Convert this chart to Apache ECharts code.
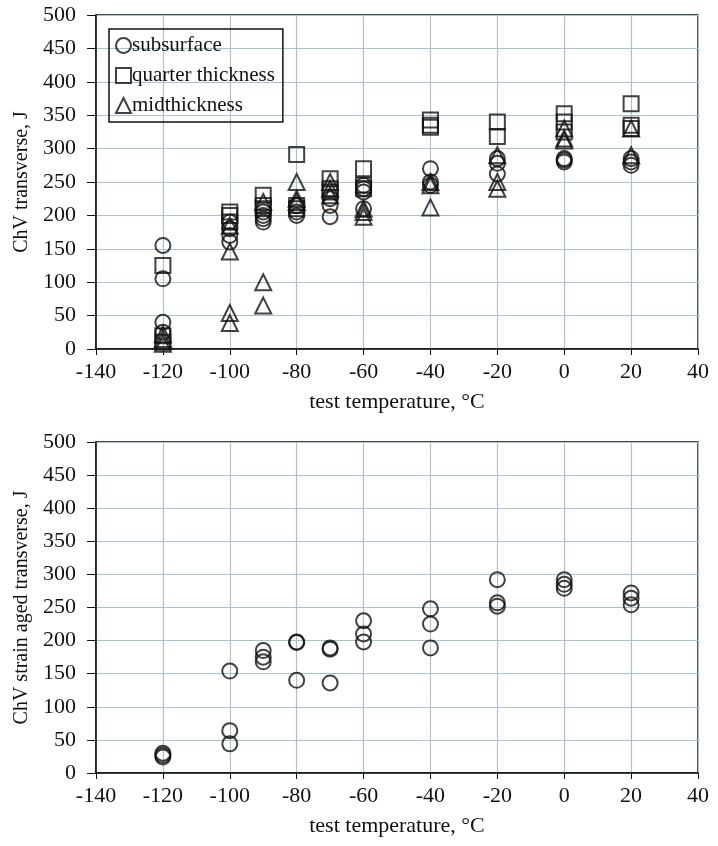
<!DOCTYPE html>
<html>
<head>
<meta charset="utf-8">
<script src="https://cdn.jsdelivr.net/npm/echarts@6/dist/echarts.min.js"></script>
<style>
  html, body { margin: 0; padding: 0; background: #fff; }
  #chart { width: 718px; height: 846px; }
</style>
</head>
<body>
<div id="chart"></div>
<script>
// test temperatures, °C
const temps = [-120, -100, -90, -80, -70, -60, -40, -20, 0, 20];

// ChV transverse, J (one list of specimens per temperature)
const subsurface = [
  [155, 105, 40, 25],
  [190, 180, 170, 160],
  [205, 200, 195, 190],
  [215, 205, 200],
  [225, 215, 198],
  [245, 240, 235, 210],
  [270, 250, 245],
  [285, 278, 262],
  [285, 283, 280],
  [285, 280, 275]
];
const quarterThickness = [
  [125, 20, 10],
  [205, 200, 190],
  [230, 215, 210],
  [291, 215, 210],
  [255, 240, 235],
  [270, 245, 240],
  [343, 335, 332],
  [340, 318],
  [352, 340, 325],
  [367, 335, 330]
];
const midthickness = [
  [22, 15, 8],
  [185, 146, 54, 39],
  [220, 100, 65],
  [250, 225, 220],
  [250, 240, 230],
  [210, 205, 198],
  [250, 245, 212],
  [290, 250, 240],
  [330, 315, 312],
  [330, 290]
];

// ChV strain aged transverse, J
const strainAged = [
  [30, 27, 24],
  [154, 64, 44],
  [185, 175, 168],
  [198, 197, 140],
  [189, 187, 136],
  [230, 210, 198],
  [248, 225, 189],
  [292, 257, 252],
  [292, 285, 279],
  [272, 264, 254]
];

const xTicks = { min: -140, max: 40, interval: 20 };
const yTicks = { min: 0, max: 500, interval: 50 };

function toPoints(groups) {
  const pts = [];
  groups.forEach((vals, i) => vals.forEach(v => pts.push([temps[i], v])));
  return pts;
}

const font = 'Liberation Serif';
const gridColor = '#a9c2d1';

function xAxis(gridIndex) {
  return {
    type: 'value', gridIndex,
    min: xTicks.min, max: xTicks.max, interval: xTicks.interval,
    name: 'test temperature, °C', nameLocation: 'middle', nameGap: 42,
    nameTextStyle: { fontFamily: font, fontSize: 22, color: '#111' },
    axisLine: { show: true, onZero: false, lineStyle: { color: '#111', width: 1.5 } },
    axisTick: { show: true, length: 6, lineStyle: { color: '#111' } },
    axisLabel: { fontFamily: font, fontSize: 22, color: '#111', margin: 12 },
    splitLine: { show: true, lineStyle: { color: gridColor, width: 1.2 } }
  };
}
function yAxis(gridIndex, name) {
  return {
    type: 'value', gridIndex,
    min: yTicks.min, max: yTicks.max, interval: yTicks.interval,
    name, nameLocation: 'middle', nameGap: 62,
    nameTextStyle: { fontFamily: font, fontSize: 20, color: '#111' },
    axisLine: { show: true, onZero: false, lineStyle: { color: '#111', width: 1.5 } },
    axisTick: { show: true, length: 9, lineStyle: { color: '#111' } },
    axisLabel: { fontFamily: font, fontSize: 22, color: '#111', margin: 20 },
    splitLine: { show: true, lineStyle: { color: gridColor, width: 1.2 } }
  };
}

const markStyle = { color: 'rgba(255,255,255,0)', borderColor: '#111', borderWidth: 2 };

function scatter(name, symbol, size, groups, idx) {
  return {
    name, type: 'scatter', xAxisIndex: idx, yAxisIndex: idx,
    symbol, symbolSize: size,
    itemStyle: markStyle,
    data: toPoints(groups)
  };
}

const chart = echarts.init(document.getElementById('chart'), null, { renderer: 'canvas' });
chart.setOption({
  animation: false,
  backgroundColor: '#fff',
  grid: [
    { left: 96, right: 20, top: 15, height: 334, show: true, borderColor: '#111', borderWidth: 1.5, backgroundColor: 'transparent' },
    { left: 96, right: 20, top: 442, height: 331, show: true, borderColor: '#111', borderWidth: 1.5, backgroundColor: 'transparent' }
  ],
  legend: {
    data: ['subsurface', 'quarter thickness', 'midthickness'],
    orient: 'vertical', left: 109, top: 29,
    borderColor: '#111', borderWidth: 1.5,
    padding: [6, 8, 6, 6], itemGap: 9,
    itemWidth: 15, itemHeight: 15,
    textStyle: { fontFamily: font, fontSize: 21, color: '#111', padding: [0, 0, 0, -4] }
  },
  xAxis: [xAxis(0), xAxis(1)],
  yAxis: [yAxis(0, 'ChV transverse, J'), yAxis(1, 'ChV strain aged transverse, J')],
  series: [
    scatter('subsurface', 'circle', 15, subsurface, 0),
    scatter('quarter thickness', 'rect', 15, quarterThickness, 0),
    scatter('midthickness', 'triangle', 16, midthickness, 0),
    scatter('strain aged', 'circle', 15, strainAged, 1)
  ]
});
</script>
</body>
</html>
